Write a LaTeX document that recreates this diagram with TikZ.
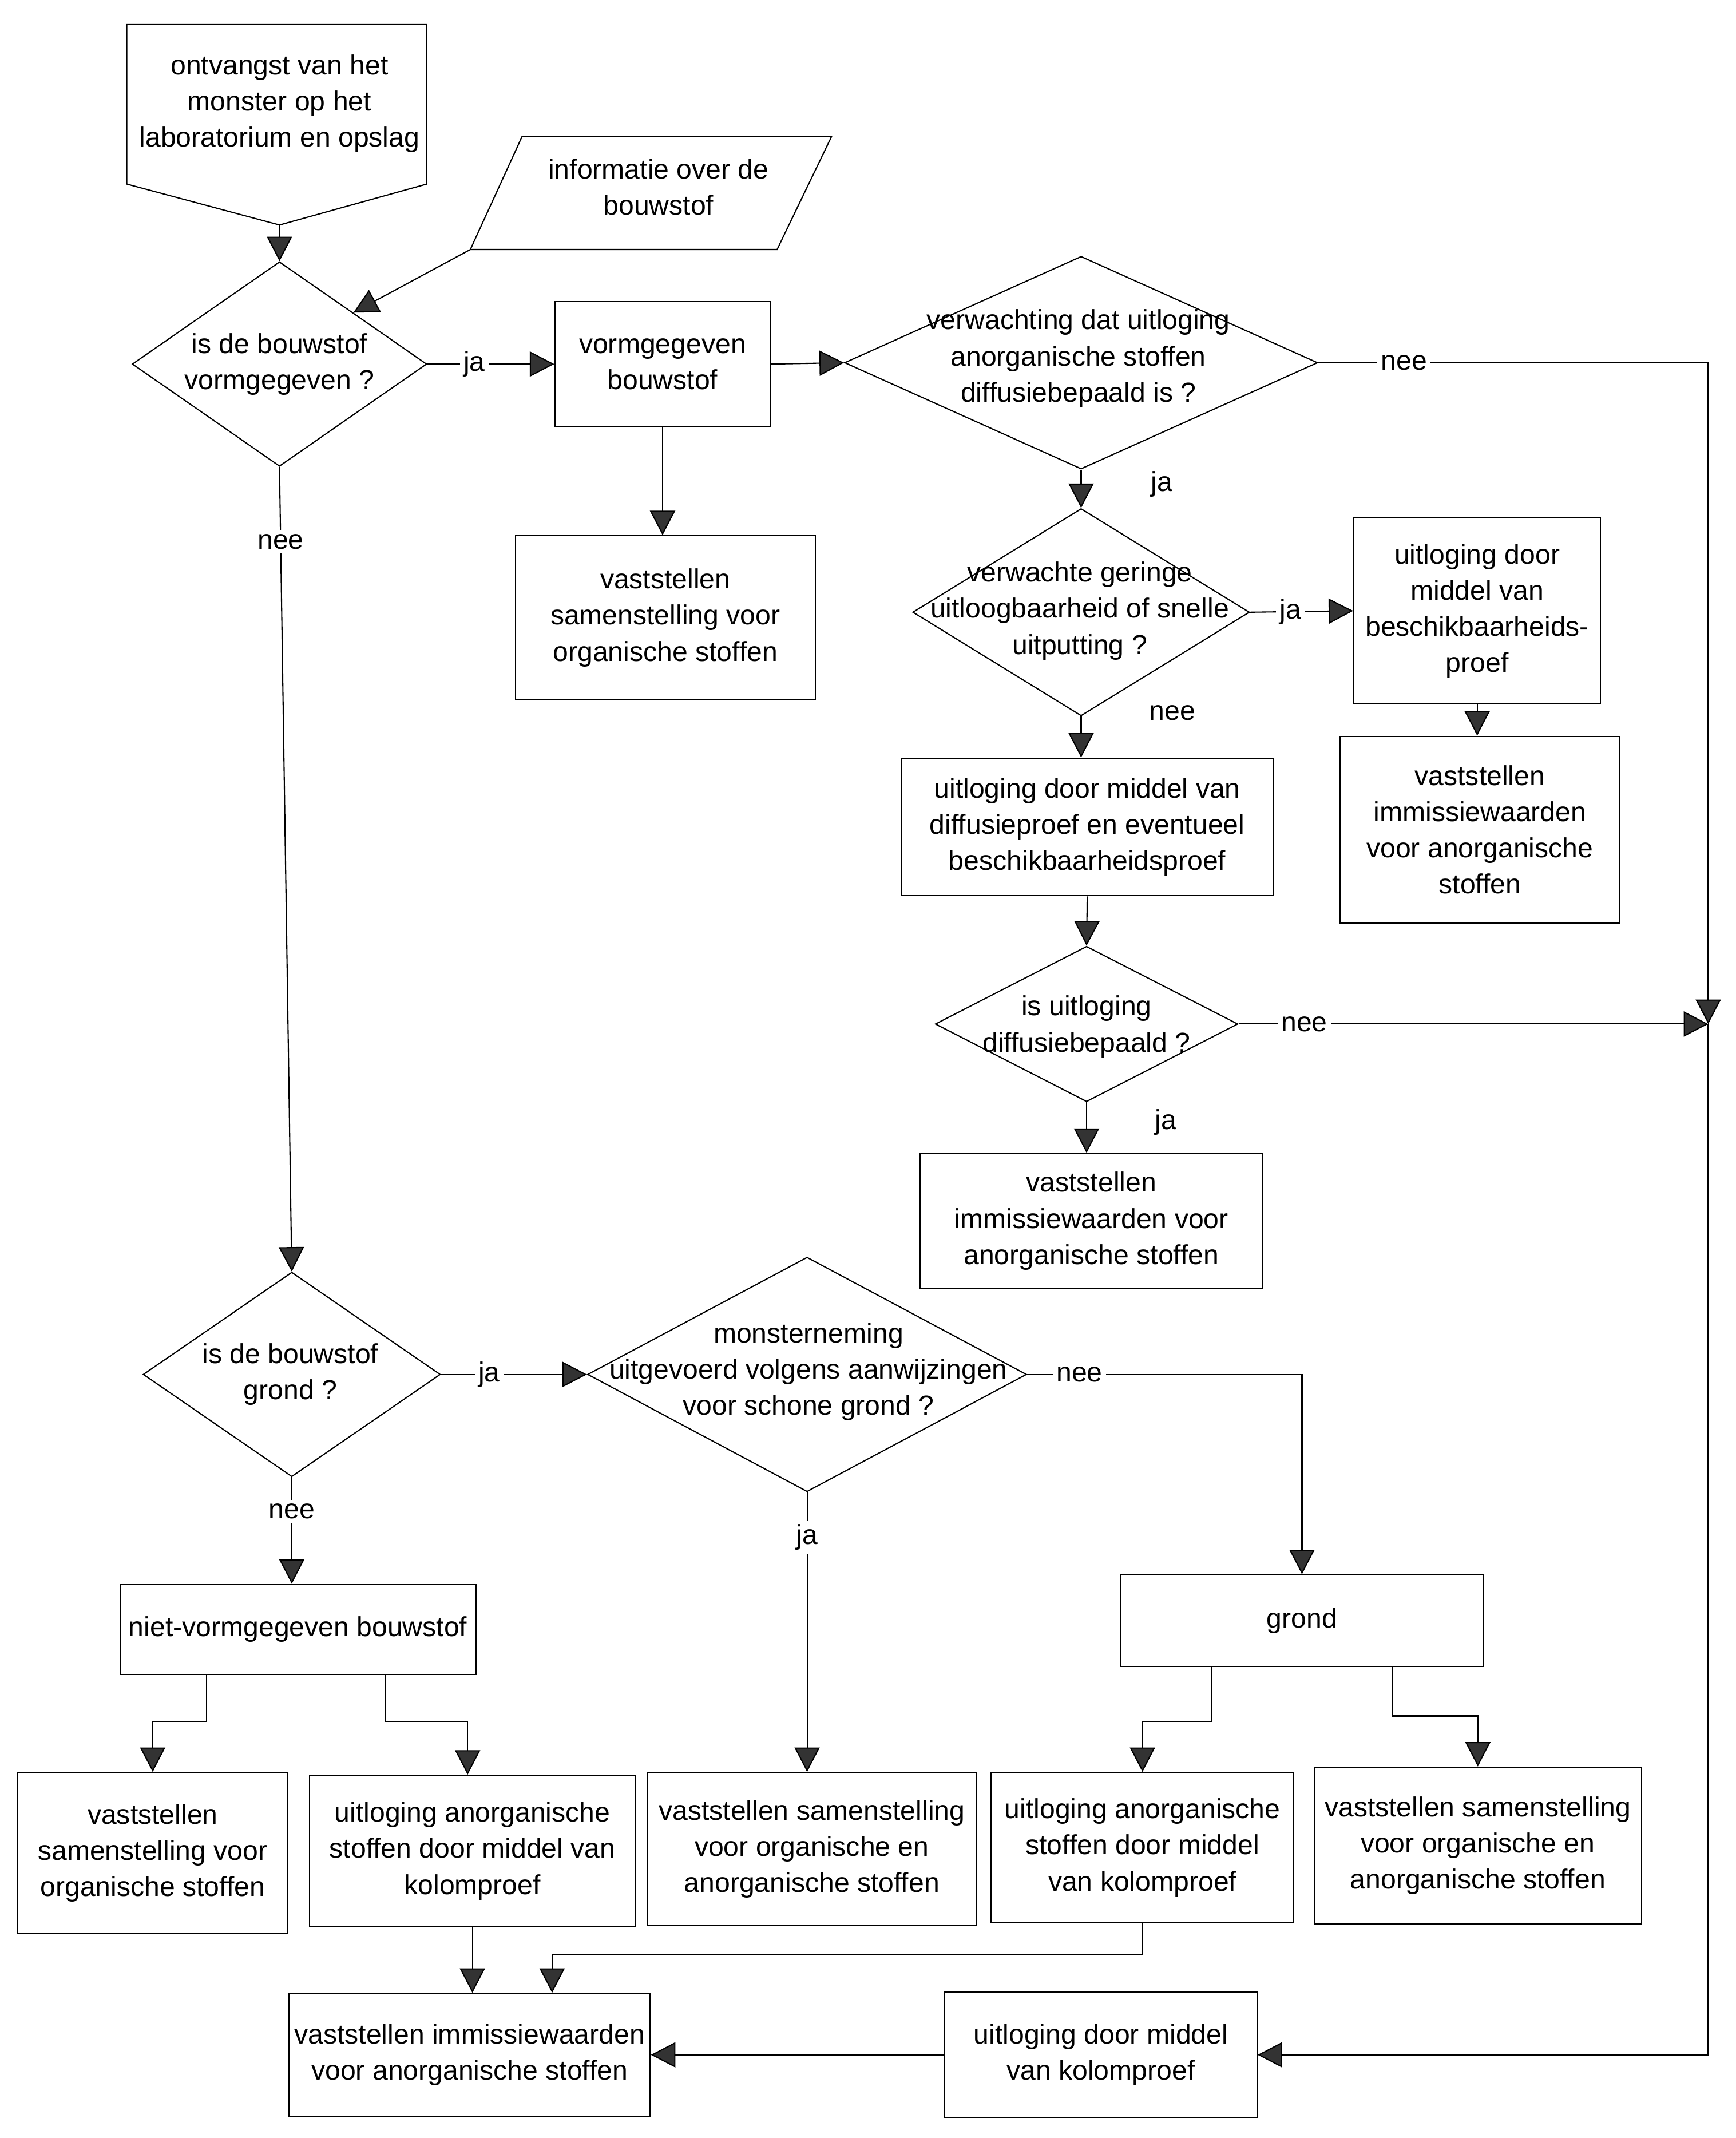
\documentclass[tikz,border=0pt]{standalone}
\usepackage{fontspec}
\setmainfont{Liberation Sans}
\usetikzlibrary{shapes.geometric,arrows.meta}
\tikzset{
  sz/.style 2 args={minimum width=#1*0.02cm, minimum height=#2*0.02cm},
  txt/.style={font=\fontsize{11.5}{15.1}\selectfont, align=center, inner sep=0pt},
  box/.style={draw, rectangle, txt},
  dia/.style={draw, diamond, inner sep=0pt},
  lbl/.style={txt, fill=white, inner sep=1.5pt},
  arr/.style={-{Triangle[length=0.36cm,width=0.37cm,fill=black!80]}},
}
\begin{document}
\begin{tikzpicture}[x=0.02cm,y=-0.02cm,line width=0.5pt]
\useasboundingbox (0,0) rectangle (1273,1568);

% start (off-page connector shape)
\draw (93,18) -- (313,18) -- (313,135) -- (205,165) -- (93,135) -- cycle;
\coordinate (sp) at (205,165);
\node[txt] (st) at (205,76) {ontvangst van het\\monster op het\\laboratorium en opslag};

% information (parallelogram)
\draw (383,100) -- (610,100) -- (570,183) -- (345,183) -- cycle;
\coordinate (ibl) at (345,183);
\node[txt] (inf) at (483,137) {informatie over de\\bouwstof};

% diamonds
\node[dia, sz={216}{150}] (d1) at (205,267) {};
\node[txt] (d1t) at (d1) {is de bouwstof\\vormgegeven ?};
\node[dia, sz={347}{156}] (d3) at (793,266) {};
\node[txt] (d3t) at (791,263) {verwachting dat uitloging\\anorganische stoffen\\diffusiebepaald is ?};
\node[dia, sz={247}{152}] (d4) at (793,449) {};
\node[txt] (d4t) at (792,448) {verwachte geringe\\uitloogbaarheid of snelle\\uitputting ?};
\node[dia, sz={222}{114}] (d8) at (797,751) {};
\node[txt] (d8t) at (797,753) {is uitloging\\diffusiebepaald ?};
\node[dia, sz={218}{150}] (d10) at (214,1008) {};
\node[txt] (d10t) at (213,1008) {is de bouwstof\\grond ?};
\node[dia, sz={322}{172}] (d11) at (592,1008) {};
\node[txt] (d11t) at (593,1006) {monsterneming\\uitgevoerd volgens aanwijzingen\\voor schone grond ?};

% boxes
\node[box, sz={158}{92}] (b2) at (486,267) {vormgegeven\\bouwstof};
\node[box, sz={220}{120}] (b3) at (488,453) {vaststellen\\samenstelling voor\\organische stoffen};
\node[box, sz={181}{136}] (b5) at (1083.5,448) {uitloging door\\middel van\\beschikbaarheids-\\proef};
\node[box, sz={205}{137}] (b6) at (1085.5,608.5) {vaststellen\\immissiewaarden\\voor anorganische\\stoffen};
\node[box, sz={273}{101}] (b7) at (797.5,606.5) {uitloging door middel van\\diffusieproef en eventueel\\beschikbaarheidsproef};
\node[box, sz={251}{99}] (b9) at (800.5,895.5) {vaststellen\\immissiewaarden voor\\anorganische stoffen};
\node[box, sz={261}{66}] (b12) at (218.5,1195) {niet-vormgegeven bouwstof};
\node[box, sz={266}{67}] (b13) at (955,1188.5) {grond};
\node[box, sz={241}{112}] (b14) at (595.5,1356) {vaststellen samenstelling\\voor organische en\\anorganische stoffen};
\node[box, sz={198}{118}] (b15) at (112,1359) {vaststellen\\samenstelling voor\\organische stoffen};
\node[box, sz={239}{111}] (b16) at (346.5,1357.5) {uitloging anorganische\\stoffen door middel van\\kolomproef};
\node[box, sz={222}{110}] (b17) at (838,1355) {uitloging anorganische\\stoffen door middel\\van kolomproef};
\node[box, sz={240}{115}] (b18) at (1084,1353.5) {vaststellen samenstelling\\voor organische en\\anorganische stoffen};
\node[box, sz={265}{90}] (b19) at (344.5,1507) {vaststellen immissiewaarden\\voor anorganische stoffen};
\node[box, sz={229}{92}] (b20) at (807.5,1507) {uitloging door middel\\van kolomproef};

\coordinate (J) at (1253,751);

% connectors
\draw[arr] (sp) -- (d1.north);
\draw[arr] (ibl) -- (d1.north east);
\draw[arr] (d1.east) -- node[lbl,pos=0.37]{ja} (b2.west);
\draw[arr] (b2.south) -- (b2.south |- b3.north);
\draw[arr] (b2.east) -- (d3.west);
\draw[arr] (d3.east) -- node[lbl,pos=0.22]{nee} (J |- d3.east) -- (J);
\draw[arr] (d3.south) -- (d4.north);
\node[txt] (l1) at (852,355) {ja};
\draw[arr] (d4.east) -- node[lbl,pos=0.39]{ja} (b5.west);
\draw[arr] (b5.south) -- (b5.south |- b6.north);
\draw[arr] (d4.south) -- (d4.south |- b7.north);
\node[txt] (l2) at (860,523) {nee};
\draw[arr] (b7.south) -- (d8.north);
\draw[arr] (d8.east) -- node[lbl,pos=0.14]{nee} (J);
\draw[arr] (d8.south) -- (d8.south |- b9.north);
\node[txt] (l3) at (855,823) {ja};
\draw[arr] (J) -- (J |- b20.east) -- (b20.east);
\draw[arr] (b20.west) -- (b19.east);

\draw[arr] (d1.south) -- node[lbl,pos=0.093]{nee} (d10.north);
\draw[arr] (d10.east) -- node[lbl,pos=0.33]{ja} (d11.west);
\draw[arr] (d11.east) -- node[lbl,pos=0.19]{nee} (b13.north |- d11.east) -- (b13.north);
\draw[arr] (d11.south) -- node[lbl,pos=0.16]{ja} (d11.south |- b14.north);
\draw[arr] (d10.south) -- node[lbl,pos=0.32]{nee} (d10.south |- b12.north);

\draw[arr] ([xshift=1.28cm]b12.south west) -- ++(0,34) -| (b15.north);
\draw[arr] ([xshift=3.9cm]b12.south west) -- ++(0,34) -| ([xshift=-0.07cm]b16.north);
\draw[arr] ([xshift=1.34cm]b13.south west) -- ++(0,40) -| (b17.north);
\draw[arr] ([xshift=4.0cm]b13.south west) -- ++(0,36) -| (b18.north);

\draw[arr] (b16.south) -- (b16.south |- b19.north);
\draw[arr] (b17.south) -- ++(0,23) -| ([xshift=1.21cm]b19.north);
\end{tikzpicture}
\end{document}
